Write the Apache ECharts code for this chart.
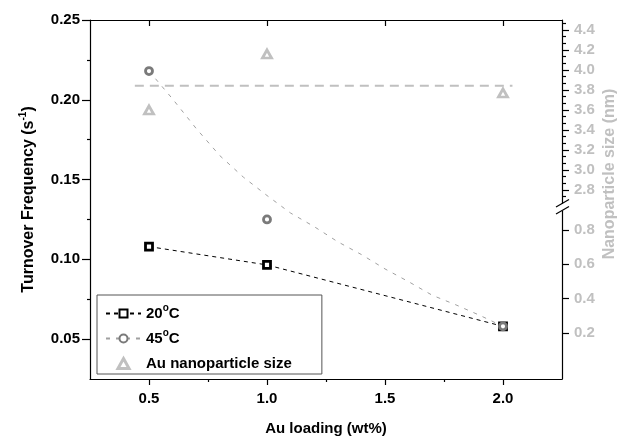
<!DOCTYPE html>
<html>
<head>
<meta charset="utf-8">
<script src="https://cdn.jsdelivr.net/npm/echarts@6/dist/echarts.min.js"></script>
<style>
  html, body { margin: 0; padding: 0; background: #fff; }
</style>
</head>
<body>
<div id="myChart" style="width: 622px; height: 441px;"></div>
<script>
// measured TOF values
var loading = [0.5, 1.0, 2.0];
var tof20 = [0.108, 0.0965, 0.058];
var tof45 = [0.218, 0.125, 0.058];
// 45 C fit curve
var fitX45 = [0.5, 0.6, 0.7, 0.8, 0.9, 1.0, 1.1, 1.2, 1.3, 1.4, 1.5, 1.6, 1.7, 1.8, 1.9, 2.0];
var fitY45 = [0.218, 0.2005, 0.182, 0.165, 0.1515, 0.140, 0.129, 0.1205, 0.111, 0.103, 0.094, 0.086, 0.0775, 0.0715, 0.065, 0.058];
// nanoparticle size (right axis)
var sizeNm = [3.60, 4.16, 3.77];
var meanX = [0.44, 2.04];
var meanSize = [3.843, 3.843];
// ticks
var xTicks = [0.5, 1.0, 1.5, 2.0];
var xMinor = [0.75, 1.25, 1.75];
var yTicks = [0.05, 0.10, 0.15, 0.20, 0.25];
var yMinor = [0.075, 0.125, 0.175, 0.225];
var sizeTicksHigh = [2.8, 3.0, 3.2, 3.4, 3.6, 3.8, 4.0, 4.2, 4.4];
var sizeTicksLow = [0.2, 0.4, 0.6, 0.8];

var sizeMinorHigh = [];
sizeTicksHigh.forEach(function (v) {
  sizeMinorHigh.push(v - 0.2 / 3, v + 0.2 / 3);
});

function pairs(xs, ys) {
  return xs.map(function (x, i) { return [x, ys[i]]; });
}

var FONT = 'Liberation Sans';
var LIGHT = '#c0c0c0';

var chart = echarts.init(document.getElementById('myChart'));

var hiddenX = { type: 'value', min: 0.25, max: 2.25, show: false };

var option = {
  animation: false,
  textStyle: { fontFamily: FONT },
  grid: [
    { left: 90, right: 60, top: 20, bottom: 60 },
    { left: 90, right: 60, top: 20, height: 180 },
    { left: 90, right: 60, top: 214, bottom: 60 }
  ],
  legend: {
    orient: 'vertical',
    left: 97,
    top: 295,
    padding: [8, 30, 0, 8],
    itemGap: 4,
    itemWidth: 35,
    itemHeight: 10,
    borderColor: '#555',
    borderWidth: 1,
    data: [
      '20°C',
      '45°C',
      {
        name: 'Au nanoparticle size',
        icon: 'path://M5,0L10,9L0,9Z',
        itemStyle: { color: '#fff', borderColor: LIGHT, borderWidth: 3 }
      }
    ],
    formatter: function (name) {
      return name.replace('°C', '{sup|o}C');
    },
    textStyle: {
      fontFamily: FONT, fontWeight: 'bold', fontSize: 15, color: '#000', lineHeight: 21,
      rich: {
        sup: { fontFamily: FONT, fontWeight: 'bold', fontSize: 10, verticalAlign: 'top', lineHeight: 12 }
      }
    }
  },
  xAxis: [
    {
      type: 'value', gridIndex: 0, min: 0.25, max: 2.25, position: 'bottom',
      name: 'Au loading (wt%)', nameLocation: 'middle', nameGap: 42,
      nameTextStyle: { fontFamily: FONT, fontWeight: 'bold', fontSize: 15, color: '#000' },
      axisLine: { lineStyle: { color: '#000', width: 1.2 } },
      axisTick: { customValues: xTicks, length: 6, lineStyle: { color: '#000', width: 1.2 } },
      axisLabel: {
        customValues: xTicks, margin: 12, color: '#000', fontWeight: 'bold', fontSize: 15,
        formatter: function (v) { return v.toFixed(1); }
      },
      splitLine: { show: false }
    },
    {
      type: 'value', gridIndex: 0, min: 0.25, max: 2.25, position: 'bottom',
      axisLine: { show: false },
      axisTick: { customValues: xMinor, length: 3, lineStyle: { color: '#000', width: 1.2 } },
      axisLabel: { show: false },
      splitLine: { show: false }
    },
    {
      type: 'value', gridIndex: 0, min: 0.25, max: 2.25, position: 'top',
      axisLine: { lineStyle: { color: '#000', width: 1.2 } },
      axisTick: { inside: true, customValues: xTicks, length: 6, lineStyle: { color: '#000', width: 1.2 } },
      axisLabel: { show: false },
      splitLine: { show: false }
    },
    Object.assign({ gridIndex: 1 }, hiddenX),
    Object.assign({ gridIndex: 2 }, hiddenX)
  ],
  yAxis: [
    {
      type: 'value', gridIndex: 0, min: 0.025, max: 0.25, position: 'left',
      name: 'Turnover Frequency (s{sup|-1})', nameLocation: 'middle', nameGap: 50,
      nameTextStyle: {
        fontFamily: FONT, fontWeight: 'bold', fontSize: 16, color: '#000', lineHeight: 22,
        rich: { sup: { fontFamily: FONT, fontWeight: 'bold', fontSize: 10, verticalAlign: 'top', lineHeight: 12, color: '#000' } }
      },
      axisLine: { lineStyle: { color: '#000', width: 1.2 } },
      axisTick: { customValues: yTicks, length: 8, lineStyle: { color: '#000', width: 1.2 } },
      axisLabel: {
        customValues: yTicks, margin: 10, color: '#000', fontWeight: 'bold', fontSize: 15,
        formatter: function (v) { return v.toFixed(2); }
      },
      splitLine: { show: false }
    },
    {
      type: 'value', gridIndex: 0, min: 0.025, max: 0.25, position: 'left',
      axisLine: { show: false },
      axisTick: { customValues: yMinor, length: 3, lineStyle: { color: '#000', width: 1.2 } },
      axisLabel: { show: false },
      splitLine: { show: false }
    },
    {
      type: 'value', gridIndex: 0, min: 0, max: 1, position: 'right',
      axisLine: { show: true, lineStyle: { color: '#000', width: 1.2 } },
      axisTick: { show: false },
      axisLabel: { show: false },
      splitLine: { show: false }
    },
    {
      type: 'value', gridIndex: 1, min: 2.7, max: 4.5, position: 'right',
      axisLine: { show: false },
      axisTick: { customValues: sizeTicksHigh, length: 7, lineStyle: { color: '#000', width: 1.2 } },
      axisLabel: {
        customValues: sizeTicksHigh, margin: 12, color: LIGHT, fontWeight: 'bold', fontSize: 15,
        formatter: function (v) { return v.toFixed(1); }
      },
      splitLine: { show: false }
    },
    {
      type: 'value', gridIndex: 1, min: 2.7, max: 4.5, position: 'right',
      axisLine: { show: false },
      axisTick: { customValues: sizeMinorHigh, length: 4, lineStyle: { color: '#000', width: 1.2 } },
      axisLabel: { show: false },
      splitLine: { show: false }
    },
    {
      type: 'value', gridIndex: 2, min: -0.08, max: 0.893, position: 'right',
      axisLine: { show: false },
      axisTick: { customValues: sizeTicksLow, length: 7, lineStyle: { color: '#000', width: 1.2 } },
      axisLabel: {
        customValues: sizeTicksLow, margin: 12, color: LIGHT, fontWeight: 'bold', fontSize: 15,
        formatter: function (v) { return v.toFixed(1); }
      },
      splitLine: { show: false }
    }
  ],
  series: [
    {
      name: '20°C',
      type: 'line',
      xAxisIndex: 0, yAxisIndex: 0,
      data: pairs(loading, tof20),
      symbol: 'rect', symbolSize: 7,
      itemStyle: { color: '#fff', borderColor: '#000', borderWidth: 2.8 },
      lineStyle: { color: '#000', width: 1, type: [4, 4] },
      z: 5
    },
    {
      name: '45°C',
      type: 'line',
      xAxisIndex: 0, yAxisIndex: 0,
      data: pairs(fitX45, fitY45),
      symbol: 'circle', symbolSize: 7, showSymbol: false,
      itemStyle: { color: '#fff', borderColor: '#7a7a7a', borderWidth: 2.8 },
      lineStyle: { color: '#a0a0a0', width: 1, type: [4, 6] },
      z: 3
    },
    {
      name: '45°C',
      type: 'scatter',
      xAxisIndex: 0, yAxisIndex: 0,
      data: pairs(loading, tof45),
      symbol: 'circle', symbolSize: 7,
      itemStyle: { color: '#fff', borderColor: '#7a7a7a', borderWidth: 2.8, opacity: 1 },
      z: 6
    },
    {
      name: 'Au nanoparticle size',
      type: 'scatter',
      xAxisIndex: 3, yAxisIndex: 3,
      data: pairs(loading, sizeNm),
      symbol: 'triangle', symbolSize: [9, 8],
      itemStyle: { color: '#fff', borderColor: LIGHT, borderWidth: 2.8, opacity: 1 },
      z: 6
    },
    {
      name: 'mean size',
      type: 'line',
      xAxisIndex: 3, yAxisIndex: 3,
      data: pairs(meanX, meanSize),
      symbol: 'none',
      lineStyle: { color: LIGHT, width: 2, type: [9, 6] },
      z: 2
    }
  ],
  graphic: [
    {
      type: 'text',
      x: 610, y: 174,
      rotation: Math.PI / 2,
      style: {
        text: 'Nanoparticle size (nm)',
        fontFamily: FONT, fontWeight: 'bold', fontSize: 16, fill: LIGHT,
        align: 'center', verticalAlign: 'middle'
      }
    },
    // axis break mark
    {
      type: 'polygon',
      shape: { points: [[557, 207], [569, 200], [569, 207], [557, 214]] },
      style: { fill: '#fff', stroke: null },
      z: 100
    },
    {
      type: 'line',
      shape: { x1: 556, y1: 207, x2: 569, y2: 199.5 },
      style: { stroke: '#000', lineWidth: 1.2 },
      z: 101
    },
    {
      type: 'line',
      shape: { x1: 556, y1: 214, x2: 569, y2: 206.5 },
      style: { stroke: '#000', lineWidth: 1.2 },
      z: 101
    }
  ]
};

option && chart.setOption(option);
</script>
</body>
</html>
